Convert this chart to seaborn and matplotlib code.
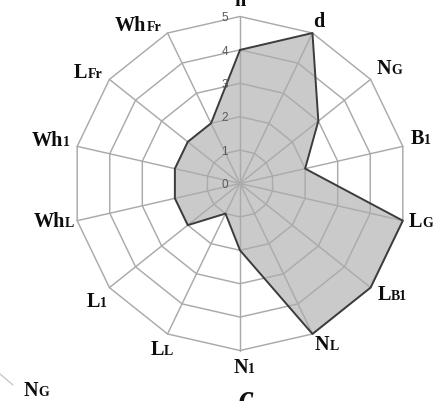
import numpy as np
import matplotlib
matplotlib.use("Agg")
import matplotlib.pyplot as plt
from matplotlib.offsetbox import TextArea, HPacker, AnnotationBbox
import seaborn as sns

# Axis names: main letters and the smaller trailing part of each label
axis_main = ["n", "d", "N", "B", "L", "L", "N", "N", "L", "L", "Wh", "Wh", "L", "Wh"]
axis_sub = ["", "", "G", "1", "G", "B1", "L", "1", "L", "1", "L", "1", "Fr", "Fr"]
scores = [4, 5, 3, 2, 5, 5, 5, 2, 1, 2, 2, 2, 2, 2]
ring_levels = [0, 1, 2, 3, 4, 5]

# Label nudges (pixels, right/down) from the outer vertex of each axis
label_nudge = [(0, -16), (6.5, -11), (18.4, -10.4), (18.2, -7.3), (18.2, 1.3),
               (21.4, 7.4), (14.5, 11), (4, 17.5), (-5.5, 16), (-12.4, 14.4),
               (-23.2, 1.3), (-26.2, -5.3), (-21.4, -6.4), (-29.5, -7)]

sns.set_theme(style="white")
plt.rcParams["font.family"] = ["Liberation Serif", "DejaVu Serif"]

W, H = 433, 401
CX, CY = 240, 183.5          # chart centre in pixels
PX = 33.4                    # pixels per score unit

fig = plt.figure(figsize=(W / 100, H / 100), dpi=100)
ax = fig.add_axes([0, 0, 1, 1])
ax.set_xlim(-CX / PX, (W - CX) / PX)
ax.set_ylim(-(H - CY) / PX, CY / PX)
ax.set_axis_off()

n_axes = len(axis_main)
theta = 2 * np.pi * np.arange(n_axes) / n_axes
ux, uy = np.sin(theta), np.cos(theta)
rmax = max(ring_levels)

grid_col = "#aaaaaa"
# concentric polygon rings
for lv in ring_levels[1:]:
    gx = np.append(ux * lv, ux[0] * lv)
    gy = np.append(uy * lv, uy[0] * lv)
    ax.plot(gx, gy, color=grid_col, lw=1.05, zorder=1)
# spokes
for k in range(n_axes):
    ax.plot([0, ux[k] * rmax], [0, uy[k] * rmax], color=grid_col, lw=1.05, zorder=1)

# data polygon
vals = np.array(scores, dtype=float)
px_ = np.append(ux * vals, ux[0] * vals[0])
py_ = np.append(uy * vals, uy[0] * vals[0])
ax.fill(px_, py_, facecolor="#acacac", alpha=0.64, edgecolor="none", zorder=2)
sns.lineplot(x=px_, y=py_, sort=False, estimator=None, color="#3c3c3c",
             lw=1.4, ax=ax, zorder=3)

# scale numbers along the first axis
for lv in ring_levels:
    ax.text(-0.36, lv - 0.05, str(lv), ha="right", va="center", fontsize=8.5,
            color="#5a5a5a", family=["Liberation Sans", "DejaVu Sans"], zorder=4)

# axis labels
main_props = dict(fontsize=14.5, fontweight="bold", color="#0d0d0d")
sub_props = dict(fontsize=10, fontweight="bold", color="#0d0d0d")
for k in range(n_axes):
    parts = [TextArea(axis_main[k], textprops=main_props)]
    if axis_sub[k]:
        parts.append(TextArea(axis_sub[k], textprops=sub_props))
    box = HPacker(children=parts, align="baseline", pad=0, sep=0)
    dx, dy = label_nudge[k]
    xy = (ux[k] * rmax + dx / PX, uy[k] * rmax - dy / PX)
    ab = AnnotationBbox(box, xy, xycoords="data", frameon=False,
                        box_alignment=(0.5, 0.5), pad=0, zorder=5)
    ax.add_artist(ab)

# pieces of the neighbouring panel along the bottom edge
ax.plot([-CX / PX, (13 - CX) / PX], [(CY - 374) / PX, (CY - 385) / PX],
        color="#c8c8c8", lw=1.0)
nb = HPacker(children=[TextArea("N", textprops=main_props),
                       TextArea("G", textprops=sub_props)],
             align="baseline", pad=0, sep=0)
ax.add_artist(AnnotationBbox(nb, ((36 - CX) / PX, (CY - 391) / PX), xycoords="data",
                             frameon=False, box_alignment=(0.5, 0.5), pad=0))
ax.text((246 - CX) / PX, (CY - 408) / PX, "c", fontsize=24, fontweight="bold",
        fontstyle="italic", ha="center", va="baseline", color="#111111")

fig.savefig("out.png", dpi=100)
